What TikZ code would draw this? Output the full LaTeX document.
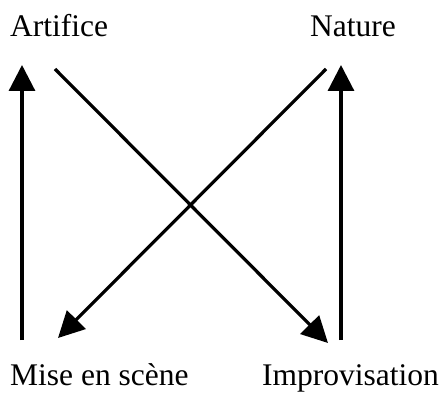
\documentclass[tikz,border=0pt]{standalone}
\usepackage{fontspec}
\setmainfont{Liberation Serif}
\usetikzlibrary{arrows.meta}
\begin{document}
\begin{tikzpicture}[x=1pt,y=1pt,>={Triangle[width=26pt,length=26pt]},
  lab/.style={anchor=base west,inner sep=0pt,font=\fontsize{31.5}{36}\selectfont},
  arr/.style={->,line width=3.2pt}]
  \useasboundingbox(0,0)rectangle(445,405);
  \node[lab](artifice) at (10,368){Artifice};
  \node[lab](nature) at (310,368){Nature};
  \node[lab](mise) at (10,20){Mise en scène};
  \node[lab](improv) at (262,20){Improvisation};
  % ends of the arrows
  \coordinate(lb) at (22,65);   \coordinate(lt) at (22,340);
  \coordinate(rb) at (341,65);  \coordinate(rt) at (341,340);
  \coordinate(al) at (55,336);  \coordinate(ir) at (328,62);
  \coordinate(nr) at (326,336); \coordinate(ml) at (58,67);
  \draw[arr](lb)--(lt);
  \draw[arr](rb)--(rt);
  \draw[arr](al)--(ir);
  \draw[arr](nr)--(ml);
\end{tikzpicture}
\end{document}
